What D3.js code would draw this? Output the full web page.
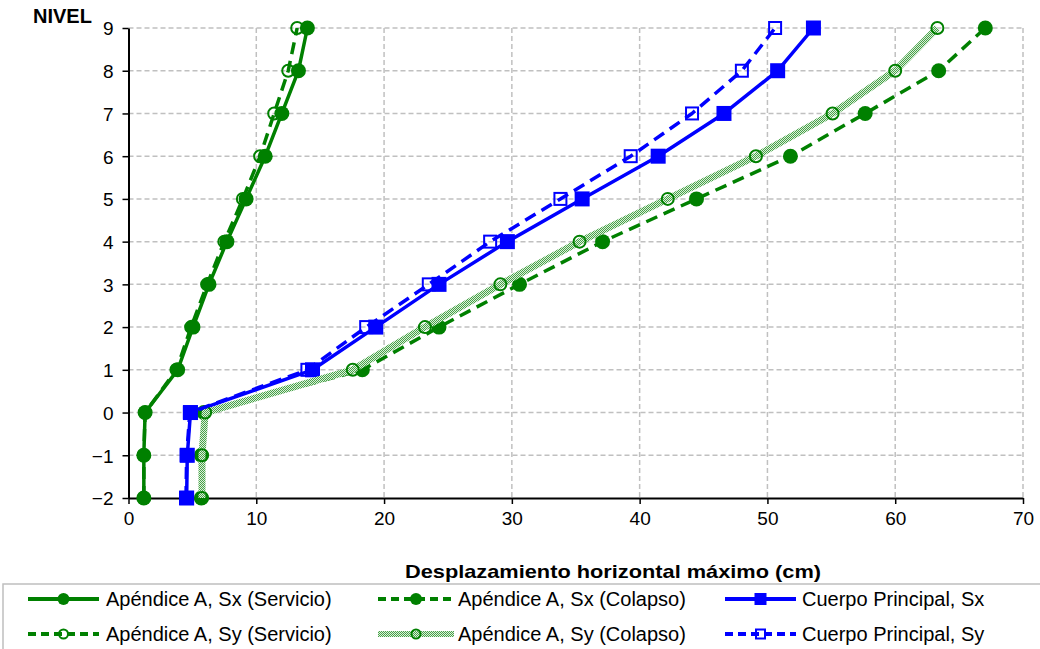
<!DOCTYPE html>
<html><head><meta charset="utf-8">
<script src="https://cdn.jsdelivr.net/npm/d3@7"></script>
<style>
body{margin:0;background:#fff}
svg text{font-family:"Liberation Sans",Arial,sans-serif}
</style>
</head><body>
<svg id="c" width="1040" height="649"></svg>
<script>
// ---- data ----
const levels = [-2,-1,0,1,2,3,4,5,6,7,8,9];
const seriesNames = [
  "Apéndice A, Sx (Servicio)",
  "Apéndice A, Sx (Colapso)",
  "Cuerpo Principal, Sx",
  "Apéndice A, Sy (Servicio)",
  "Apéndice A, Sy (Colapso)",
  "Cuerpo Principal, Sy"
];
const sxServicio = [1.2, 1.2, 1.3, 3.85, 5.05, 6.3, 7.7, 9.2, 10.7, 12.0, 13.3, 14.0];
const sxColapso  = [5.7, 5.7, 5.9, 18.3, 24.3, 30.6, 37.1, 44.45, 51.8, 57.65, 63.4, 67.05];
const cpSx       = [4.55, 4.6, 4.85, 14.4, 19.35, 24.3, 29.65, 35.5, 41.45, 46.6, 50.8, 53.6];
const syServicio = [1.2, 1.2, 1.3, 3.75, 4.9, 6.15, 7.5, 8.95, 10.3, 11.4, 12.5, 13.2];
const syColapso  = [5.75, 5.75, 6.0, 17.55, 23.2, 29.1, 35.3, 42.2, 49.1, 55.1, 60.0, 63.3];
const cpSy       = [4.5, 4.55, 4.8, 14.0, 18.6, 23.5, 28.3, 33.8, 39.3, 44.1, 48.0, 50.6];
const xTicks = [0,10,20,30,40,50,60,70];
const yTicks = [-2,-1,0,1,2,3,4,5,6,7,8,9];
const xTitle = "Desplazamiento horizontal máximo  (cm)";
const yTitle = "NIVEL";

// ---- styles ----
const GREEN = "#008000", BLUE = "#0000ff";
const styles = [
  {color:GREEN, width:3.5, dash:null,   marker:"circle", filled:true},
  {color:GREEN, width:3.5, dash:"12,7", marker:"circle", filled:true},
  {color:BLUE,  width:3.5, dash:null,   marker:"square", filled:true},
  {color:GREEN, width:3.5, dash:"12,7", marker:"circle", filled:false},
  {color:"url(#tex)", mcolor:GREEN, width:7, dash:null, marker:"circle", filled:false},
  {color:BLUE,  width:3.5, dash:"12,7", marker:"square", filled:false}
];
const seriesData = [sxServicio, sxColapso, cpSx, syServicio, syColapso, cpSy];

const svg = d3.select("#c");
const defs = svg.append("defs");
const pat = defs.append("pattern").attr("id","tex").attr("patternUnits","userSpaceOnUse")
  .attr("width",2).attr("height",2);
pat.append("rect").attr("width",2).attr("height",2).attr("fill","#dcefdc");
pat.append("rect").attr("width",1).attr("height",1).attr("fill","#48a248");
pat.append("rect").attr("x",1).attr("y",1).attr("width",1).attr("height",1).attr("fill","#48a248");

const x = d3.scaleLinear().domain([0,70]).range([128.5,1023]);
const y = d3.scaleLinear().domain([-2,9]).range([498,28]);

// grid
const grid = svg.append("g").attr("stroke","#c0c0c0").attr("stroke-width",1.5).attr("stroke-dasharray","5,3");
grid.selectAll("line.h").data(yTicks.filter(d=>d>-2)).join("line")
  .attr("x1",x(0)).attr("x2",x(70)).attr("y1",d=>y(d)).attr("y2",d=>y(d));
grid.selectAll("line.v").data(xTicks.filter(d=>d>0)).join("line")
  .attr("x1",d=>x(d)).attr("x2",d=>x(d)).attr("y1",y(9)).attr("y2",y(-2));

// axes
const ax = svg.append("g").attr("transform",`translate(0,${y(-2)})`)
  .call(d3.axisBottom(x).tickValues(xTicks).tickSize(6).tickSizeOuter(0).tickPadding(8));
const ay = svg.append("g").attr("transform",`translate(${x(0)},0)`)
  .call(d3.axisLeft(y).tickValues(yTicks).tickSize(6).tickSizeOuter(0).tickPadding(9));
[ax,ay].forEach(g=>{
  g.select(".domain").attr("stroke","#000").attr("stroke-width",2);
  g.selectAll(".tick line").attr("stroke","#000").attr("stroke-width",1.5);
  g.selectAll(".tick text").attr("fill","#000").style("font-size","19px")
   .style("font-family","'Liberation Sans',Arial,sans-serif");
});
ay.selectAll(".tick text").attr("dy","0.36em");

// titles
svg.append("text").attr("x",613).attr("y",578).attr("text-anchor","middle")
  .style("font-size","19px").style("font-weight","bold")
  .attr("textLength",416).attr("lengthAdjust","spacingAndGlyphs").text(xTitle);
svg.append("text").attr("x",33).attr("y",23).style("font-size","20px").style("font-weight","bold").text(yTitle);

// series
function drawMarker(g, type, cx, cy, s, size){
  const col = s.mcolor||s.color;
  if(type==="circle"){
    if(s.filled) g.append("circle").attr("cx",cx).attr("cy",cy).attr("r",size/2).attr("fill",col);
    else g.append("circle").attr("cx",cx).attr("cy",cy).attr("r",size/2-1.5)
      .attr("fill","none").attr("stroke",col).attr("stroke-width",2);
  } else {
    const sz = s.filled ? size : size-3;
    g.append("rect").attr("x",cx-sz/2).attr("y",cy-sz/2).attr("width",sz).attr("height",sz)
      .attr("fill",s.filled?col:"none").attr("stroke",s.filled?"none":col).attr("stroke-width",2);
  }
}
const line = d3.line().x(d=>x(d[0])).y(d=>y(d[1]));
seriesData.forEach((vals,i)=>{
  const s = styles[i];
  const pts = vals.map((v,j)=>[v, levels[j]]);
  const g = svg.append("g");
  g.append("path").attr("d",line(pts)).attr("fill","none").attr("stroke",s.color)
    .attr("stroke-width",s.width).attr("stroke-dasharray",s.dash).attr("stroke-linejoin","round");
  pts.forEach(p=>drawMarker(g, s.marker, x(p[0]), y(p[1]), s, 15));
});

// legend
svg.append("rect").attr("x",3).attr("y",584).attr("width",1060).attr("height",90)
  .attr("fill","none").attr("stroke","#bfbfbf").attr("stroke-width",1.5);
const legCols = [[28,99,106],[378,454,458],[725,796,802]];
const legRows = [599,634];
seriesNames.forEach((name,i)=>{
  const s = styles[i];
  const col = legCols[i%3], row = legRows[Math.floor(i/3)];
  const g = svg.append("g");
  g.append("line").attr("x1",col[0]).attr("x2",col[1]).attr("y1",row).attr("y2",row)
    .attr("stroke",s.color).attr("stroke-width",s.width===7?6:4)
    .attr("stroke-dasharray",s.dash?"8,5":null);
  if(!s.filled) g.append("circle").attr("cx",(col[0]+col[1])/2).attr("cy",row).attr("r",0);
  drawMarker(g, s.marker, (col[0]+col[1])/2, row, s, 12);
  g.append("text").attr("x",col[2]).attr("y",row).attr("dy","0.35em")
    .style("font-size","20px").attr("fill","#000").text(name);
});
</script>
</body></html>
